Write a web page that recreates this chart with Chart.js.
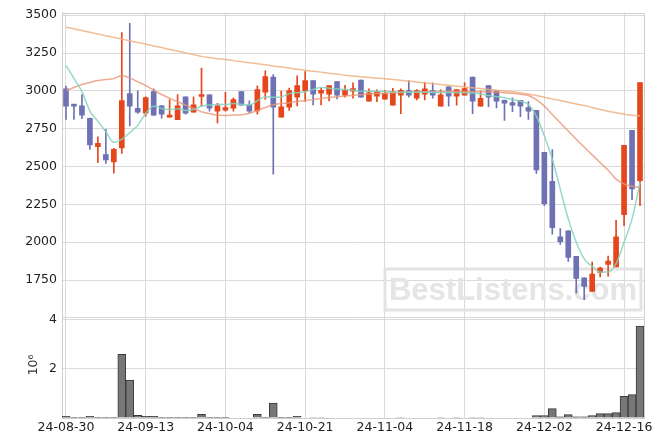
<!DOCTYPE html>
<html>
<head>
<meta charset="utf-8">
<script src="https://cdn.jsdelivr.net/npm/chart.js@4.4.1/dist/chart.umd.min.js"></script>
<style>
  html, body { margin: 0; padding: 0; background: #fff; }
</style>
</head>
<body>
<canvas id="chart" width="663" height="447"></canvas>
<script>
// trading days (KRX calendar, holidays skipped)
const dates = [
  '24-08-30','24-09-02','24-09-03','24-09-04','24-09-05','24-09-06','24-09-09','24-09-10','24-09-11','24-09-12',
  '24-09-13','24-09-19','24-09-20','24-09-23','24-09-24','24-09-25','24-09-26','24-09-27','24-09-30','24-10-02',
  '24-10-04','24-10-07','24-10-08','24-10-10','24-10-11','24-10-14','24-10-15','24-10-16','24-10-17','24-10-18',
  '24-10-21','24-10-22','24-10-23','24-10-24','24-10-25','24-10-28','24-10-29','24-10-30','24-10-31','24-11-01',
  '24-11-04','24-11-05','24-11-06','24-11-07','24-11-08','24-11-11','24-11-12','24-11-13','24-11-14','24-11-15',
  '24-11-18','24-11-19','24-11-20','24-11-21','24-11-22','24-11-25','24-11-26','24-11-27','24-11-28','24-11-29',
  '24-12-02','24-12-03','24-12-04','24-12-05','24-12-06','24-12-09','24-12-10','24-12-11','24-12-12','24-12-13',
  '24-12-16','24-12-17','24-12-18'
];

const opens = [
  3013,2908,2901,2818,2632,2579,2531,2623,2982,2884,
  2853,2996,2901,2827,2809,2961,2860,2963,2974,2866,
  2873,2886,2996,2908,2868,2991,3092,2827,2893,2958,
  3000,3068,2985,2978,3061,2971,2998,3072,2932,2965,
  2945,2906,2971,3002,2952,2978,3002,2899,3026,2965,
  2971,3092,2899,3035,3002,2937,2923,2937,2890,2871,
  2594,2403,2035,2075,1906,1765,1675,1800,1853,1836,
  2182,2739,2406
];
const highs = [
  3031,2910,2976,2820,2697,2746,2620,3386,3447,3000,
  2961,3013,2905,2943,2976,2961,2961,3151,2974,2917,
  2991,2954,2996,2934,3033,3132,3107,2998,3018,3099,
  3127,3068,3018,3035,3061,3037,3053,3072,3013,3007,
  3004,3017,3013,3068,3009,3057,3053,3007,3026,3009,
  3053,3092,3000,3035,3002,2940,2954,2937,2930,2871,
  2594,2612,2090,2075,1906,1765,1868,1835,1908,2145,
  2640,2739,3055
];
const lows = [
  2811,2811,2816,2614,2526,2520,2456,2586,2768,2851,
  2833,2838,2820,2827,2809,2846,2860,2899,2866,2789,
  2866,2866,2906,2855,2846,2943,2450,2827,2871,2901,
  2930,2908,2908,2934,2947,2958,2952,2958,2932,2928,
  2945,2906,2849,2958,2941,2941,2952,2899,2899,2906,
  2971,2849,2899,2895,2888,2805,2862,2829,2811,2454,
  2241,2053,1985,1873,1664,1621,1675,1770,1776,1836,
  2110,2281,2241
];
const closes = [
  2899,2899,2840,2643,2654,2544,2614,2936,2899,2860,
  2956,2840,2846,2838,2901,2853,2908,2974,2886,2901,
  2890,2943,2906,2866,3009,3094,2893,2895,3002,3035,
  3068,2978,3004,3035,2971,3002,3015,2958,2987,2996,
  2982,2993,3004,2971,3002,3013,2971,2974,2965,3009,
  3015,2932,2950,2958,2932,2919,2906,2899,2866,2478,
  2254,2096,2004,1899,1761,1708,1789,1829,1875,2035,
  2640,2353,3055
];
const volumes = [
  70000,15000,15000,70000,15000,15000,15000,2580000,1540000,110000,
  70000,70000,15000,15000,15000,15000,15000,150000,15000,15000,
  15000,0,0,0,150000,10000,600000,10000,10000,70000,
  0,20000,20000,0,0,0,0,0,0,0,
  0,0,20000,0,0,0,0,20000,0,20000,
  0,20000,20000,0,0,0,0,0,0,100000,
  100000,380000,50000,140000,50000,50000,100000,180000,180000,220000,
  880000,950000,3730000
];
// moving averages
const maShort = [
  3169,3083,2995,2866,2800,2730,2660,2680,2724,2772,
  2851,2899,2884,2877,2882,2871,2877,2899,2906,2910,
  2910,2917,2912,2906,2935,2962,2958,2960,2982,2987,
  2995,3010,3022,3018,3012,3009,3004,2998,2998,2997,
  2996,2993,2991,2991,2991,2991,2990,2989,2989,2988,
  2987,2986,2980,2969,2962,2954,2943,2932,2910,2833,
  2702,2548,2351,2154,2000,1890,1840,1803,1803,1858,
  2000,2154,2395
];
const maMid = [
  3002,3022,3042,3056,3068,3075,3081,3101,3086,3060,
  3035,3005,2976,2952,2928,2906,2884,2862,2850,2840,
  2838,2840,2842,2852,2870,2890,2908,2916,2922,2930,
  2936,2943,2950,2956,2962,2966,2970,2975,2979,2982,
  2985,2987,2989,2991,2993,2994,2995,2996,2997,2997,
  2996,2995,2994,2993,2992,2988,2984,2978,2969,2943,
  2899,2844,2789,2735,2680,2629,2577,2526,2476,2417,
  2385,2370,2362
];
const maLong = [
  3421,3410,3399,3387,3376,3365,3353,3342,3331,3320,
  3309,3297,3286,3274,3263,3251,3240,3228,3220,3213,
  3207,3200,3193,3186,3179,3172,3165,3158,3151,3143,
  3136,3130,3124,3117,3111,3104,3098,3093,3088,3084,
  3080,3075,3070,3064,3059,3053,3048,3042,3037,3031,
  3026,3020,3015,3009,3005,3000,2994,2987,2980,2969,
  2958,2947,2936,2925,2914,2903,2890,2877,2865,2855,
  2845,2839,2835
];
const priceTicks = [1500, 1750, 2000, 2250, 2500, 2750, 3000, 3250, 3500];
const volTicks = [0, 2000000, 4000000];
const priceRange = [1500, 3518];
const volRange = [0, 4060000];
const labelEvery = 10;

const UP = '#e5461b';
const DOWN = '#6e72b2';
const candleColors = opens.map((o, i) => closes[i] >= o ? UP : DOWN);
const FONT = { family: '"DejaVu Sans", sans-serif', size: 12.5 };
const GRID = '#dadada';

const overlay = {
  id: 'overlay',
  beforeDatasetsDraw(chart) {
    const { ctx, chartArea } = chart;
    // watermark
    ctx.save();
    ctx.strokeStyle = '#e3e3e3';
    ctx.lineWidth = 3;
    ctx.strokeRect(chartArea.right - 259, 269, 256, 41);
    ctx.font = 'bold 31px "Liberation Sans", sans-serif';
    ctx.fillStyle = '#e5e5e5';
    ctx.textAlign = 'center';
    ctx.textBaseline = 'alphabetic';
    ctx.fillText('BestListens.com', chartArea.right - 131, 300);
    ctx.restore();
  },
  afterDraw(chart) {
    const { ctx, chartArea } = chart;
    ctx.save();
    ctx.strokeStyle = '#cfcfcf';
    ctx.lineWidth = 1;
    ctx.beginPath();
    ctx.moveTo(chartArea.left, Math.round(chartArea.top) + 0.5);
    ctx.lineTo(Math.round(chartArea.right) + 0.5, Math.round(chartArea.top) + 0.5);
    ctx.lineTo(Math.round(chartArea.right) + 0.5, chartArea.bottom);
    ctx.stroke();
    // volume unit
    const yv = chart.scales.yv;
    ctx.translate(34, yv.top + 47);
    ctx.rotate(-Math.PI / 2);
    ctx.font = '12.5px "DejaVu Sans", sans-serif';
    ctx.fillStyle = '#333';
    ctx.textAlign = 'center';
    ctx.textBaseline = 'middle';
    ctx.fillText('10\u2076', 0, 0);
    ctx.restore();
  }
};

new Chart(document.getElementById('chart'), {
  type: 'bar',
  data: {
    labels: dates,
    datasets: [
      { type: 'line', data: maShort, borderColor: 'rgba(130,212,188,0.85)', borderWidth: 1.5, pointRadius: 0, cubicInterpolationMode: 'monotone', yAxisID: 'y', order: 0 },
      { type: 'line', data: maMid, borderColor: 'rgba(234,150,118,0.8)', borderWidth: 1.5, pointRadius: 0, cubicInterpolationMode: 'monotone', yAxisID: 'y', order: 0 },
      { type: 'line', data: maLong, borderColor: 'rgba(238,178,130,0.85)', borderWidth: 1.5, pointRadius: 0, cubicInterpolationMode: 'monotone', yAxisID: 'y', order: 0 },
      { data: opens.map((o, i) => [o, closes[i]]), backgroundColor: candleColors, barThickness: 5, minBarLength: 2, grouped: false, yAxisID: 'y', order: 1 },
      { data: lows.map((l, i) => [l, highs[i]]), backgroundColor: candleColors, barThickness: 1, grouped: false, yAxisID: 'y', order: 2 },
      { data: volumes, backgroundColor: '#777777', borderColor: '#3a3a3a', borderWidth: 1, barPercentage: 1, categoryPercentage: 1, grouped: false, yAxisID: 'yv', order: 3 }
    ]
  },
  options: {
    responsive: false,
    animation: false,
    events: [],
    layout: { padding: { left: 22, right: 19, top: 12, bottom: 11 } },
    plugins: { legend: { display: false }, tooltip: { enabled: false } },
    scales: {
      x: {
        offset: true,
        afterFit: s => { s.height = 18; },
        grid: { offset: false, drawTicks: false, color: GRID },
        border: { color: '#cfcfcf' },
        ticks: {
          autoSkip: false, maxRotation: 0, minRotation: 0, padding: 2.5,
          color: '#222', font: FONT,
          callback: (v, i) => i % labelEvery === 0 ? dates[i] : null
        }
      },
      yv: {
        position: 'left', stack: 'panels', stackWeight: 1,
        min: volRange[0], max: volRange[1],
        afterBuildTicks: s => { s.ticks = volTicks.map(v => ({ value: v })); },
        afterFit: s => { s.width = 40; },
        grid: { color: GRID, drawTicks: false },
        border: { color: '#cfcfcf' },
        ticks: { padding: 5, color: '#222', font: FONT,
          callback: v => v === 0 ? '' : v / 1000000 }
      },
      y: {
        position: 'left', stack: 'panels', stackWeight: 3.05,
        min: priceRange[0], max: priceRange[1],
        afterBuildTicks: s => { s.ticks = priceTicks.map(v => ({ value: v })); },
        afterFit: s => { s.width = 40; },
        grid: { color: GRID, drawTicks: false },
        border: { color: '#cfcfcf' },
        ticks: { padding: 5, color: '#222', font: FONT,
          callback: v => v === priceRange[0] ? '' : v }
      }
    }
  },
  plugins: [overlay]
});
</script>
</body>
</html>
